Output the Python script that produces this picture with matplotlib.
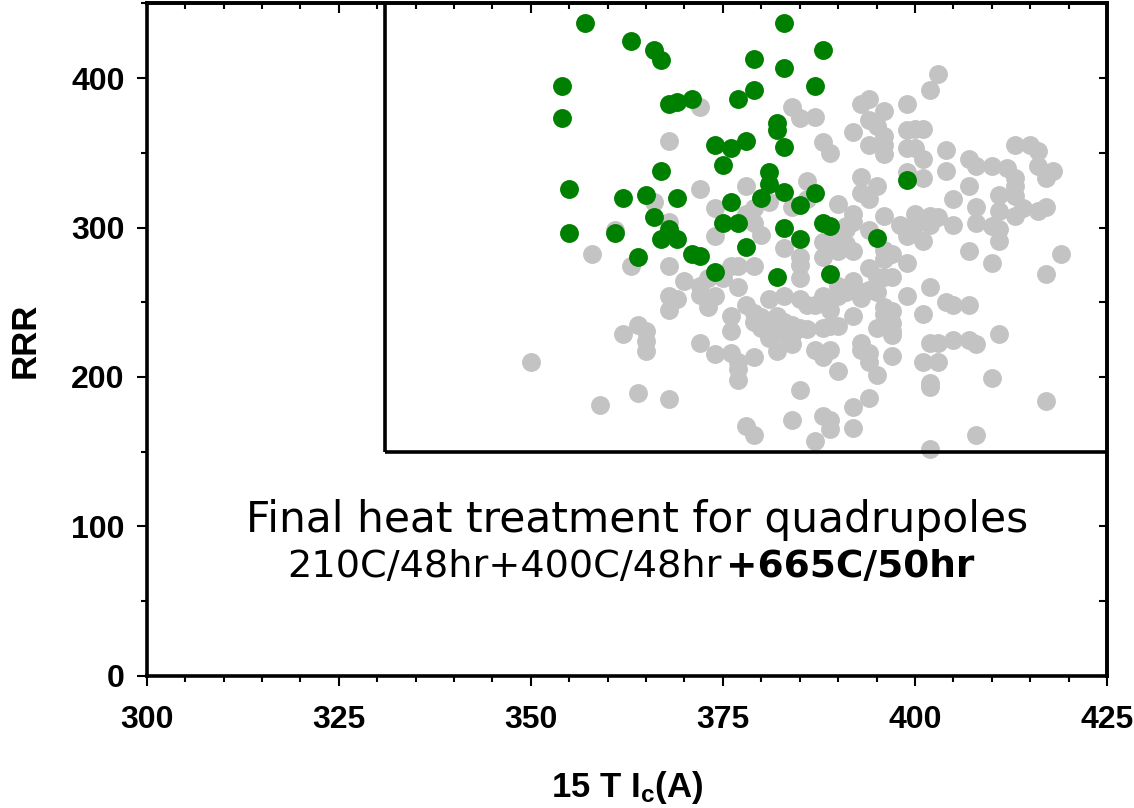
import matplotlib
matplotlib.use('Agg')
import matplotlib.pyplot as plt
from matplotlib.ticker import MultipleLocator
from matplotlib.patches import Rectangle

# strands after the final quadrupole heat treatment (green)
green_ic = [357, 363, 366, 367, 354, 354, 383, 388, 379, 383, 379, 377, 387,
            368, 369, 371, 382, 382, 374, 376, 378, 383, 375, 367, 381, 399,
            355, 362, 365, 369, 381, 380, 383, 387, 385, 376, 366, 355, 361,
            368, 367, 369, 375, 377, 383, 388, 389, 385, 395, 378, 364, 371,
            372, 374, 382, 389]
green_rrr = [437, 425, 419, 412, 395, 373, 437, 419, 413, 407, 392, 386, 395,
             383, 384, 386, 370, 365, 355, 353, 358, 354, 342, 338, 337, 332,
             326, 320, 322, 320, 329, 320, 324, 323, 315, 317, 307, 296, 296,
             299, 292, 292, 303, 303, 300, 303, 301, 292, 293, 287, 280, 282,
             281, 270, 267, 269]

# all other strands (grey)
grey_ic = [403, 402, 399, 393, 394, 396, 392, 394, 395, 396, 394, 396, 396,
           399, 400, 401, 399, 400, 401, 404, 404, 401, 399, 407, 408, 410,
           412, 413, 415, 416, 416, 417, 418, 413, 413, 407, 411, 413, 405,
           408, 411, 413, 414, 416, 417, 400, 402, 403, 398, 400, 402, 405,
           408, 410, 411, 399, 401, 411, 407, 410, 399, 397, 397, 402, 399,
           401, 404, 405, 407, 397, 397, 397, 402, 403, 405, 407, 408, 411,
           419, 417, 401, 403, 397, 402, 402, 410, 417, 408, 402,
           393, 395, 393, 394, 396, 392, 390, 392, 391, 394, 396, 396, 394,
           392, 395, 396, 394, 393, 392, 390, 391, 395, 393, 396, 396, 397,
           392, 393, 393, 394, 395, 395, 394, 390, 394, 392, 392, 389, 389,
           388, 387, 384, 385, 378, 379,
           384, 385, 387, 388, 389, 372, 368, 372, 378, 386, 366, 374, 379,
           381, 384, 386, 368, 378, 379, 380, 374, 361, 383, 388, 388, 390,
           391, 376, 377, 379, 375, 377, 385, 385, 372, 374, 373, 378, 379,
           381, 383, 385, 386, 388, 390, 387, 389, 376, 376, 380, 382, 383,
           384, 379, 380, 381, 381, 383, 384, 385, 386, 388, 389, 390, 384,
           382, 387, 388, 389, 372, 374, 376, 377, 379, 377, 377,
           358, 363, 368, 370, 372, 373, 368, 369, 368, 364, 365, 365, 365,
           362, 350, 364, 359, 368, 390, 391, 382, 385]
grey_rrr = [403, 392, 383, 383, 386, 378, 364, 372, 368, 361, 355, 355, 349,
            365, 366, 366, 353, 353, 346, 352, 338, 333, 337, 346, 341, 341,
            340, 355, 355, 351, 341, 333, 338, 333, 328, 328, 322, 321, 319,
            314, 311, 308, 313, 311, 314, 309, 308, 307, 302, 302, 302, 302,
            303, 301, 299, 294, 291, 291, 284, 276, 276, 282, 267, 260, 254,
            242, 250, 248, 248, 244, 236, 231, 223, 223, 225, 225, 222, 229,
            282, 269, 210, 210, 214, 196, 193, 199, 184, 161, 152,
            334, 328, 323, 319, 308, 309, 316, 304, 301, 298, 285, 279, 273,
            284, 267, 267, 258, 257, 264, 261, 257, 257, 253, 247, 242, 228,
            241, 223, 218, 210, 201, 233, 216, 204, 186, 180, 166, 171, 165,
            174, 157, 171, 191, 167, 161,
            381, 373, 374, 357, 350, 381, 358, 326, 328, 331, 317, 313, 313,
            317, 314, 319, 304, 309, 303, 295, 294, 298, 286, 290, 280, 284,
            289, 274, 274, 274, 266, 260, 275, 266, 255, 254, 247, 248, 243,
            252, 254, 252, 248, 254, 254, 248, 245, 241, 231, 240, 237, 237,
            235, 237, 233, 229, 226, 229, 228, 233, 232, 233, 234, 234, 222,
            217, 218, 213, 218, 223, 215, 216, 210, 213, 205, 198,
            282, 274, 274, 264, 261, 266, 254, 252, 245, 235, 231, 224, 217,
            229, 210, 189, 181, 185, 294, 299, 241, 280]

x_ticks = [300, 325, 350, 375, 400, 425]
y_ticks = [0, 100, 200, 300, 400]

plt.rcParams['font.family'] = ['Liberation Sans', 'DejaVu Sans']
plt.rcParams['mathtext.fontset'] = 'custom'
plt.rcParams['mathtext.rm'] = 'Liberation Sans:bold'
plt.rcParams['mathtext.it'] = 'Liberation Sans:bold'
plt.rcParams['mathtext.bf'] = 'Liberation Sans:bold'

fig = plt.figure(figsize=(11.34, 8.08), dpi=100)
ax = fig.add_axes([0.1294, 0.1639, 0.8468, 0.8318])

ax.scatter(grey_ic, grey_rrr, s=185, c='#c3c3c3', linewidths=0, zorder=2)
ax.scatter(green_ic, green_rrr, s=185, c='#008000', linewidths=0, zorder=3)

# selection box: Ic > 331 A and RRR > 150
ax.add_patch(Rectangle((331, 150), 100, 400, fill=False, lw=2.6,
                       ec='black', zorder=4))

ax.text(363.8, 104, 'Final heat treatment for quadrupoles', ha='center',
        va='center', fontsize=30.5, family='DejaVu Sans')
ax.text(374.9, 73, '210C/48hr+400C/48hr', ha='right', va='center',
        fontsize=27.5, family='DejaVu Sans')
ax.text(375.4, 73, '+665C/50hr', ha='left', va='center', fontsize=27,
        family='DejaVu Sans', fontweight='bold')

ax.set_xlim(300, 425)
ax.set_ylim(0, 450)
ax.set_xticks(x_ticks)
ax.set_yticks(y_ticks)
ax.xaxis.set_minor_locator(MultipleLocator(5))
ax.yaxis.set_minor_locator(MultipleLocator(50))
ax.tick_params(which='major', direction='out', length=7, width=1.5)
ax.tick_params(which='minor', direction='out', length=4.5, width=1.5)
ax.tick_params(axis='x', pad=14)
ax.tick_params(axis='y', pad=9)
for lab in ax.get_xticklabels() + ax.get_yticklabels():
    lab.set_fontsize(23)
    lab.set_fontweight('bold')

for sp in ax.spines.values():
    sp.set_linewidth(2.6)

top = ax.secondary_xaxis('top')
top.set_xticks(x_ticks)
top.xaxis.set_minor_locator(MultipleLocator(5))
top.tick_params(which='major', direction='in', length=7, width=1.5, labeltop=False)
top.tick_params(which='minor', direction='in', length=4.5, width=1.5)
top.spines['top'].set_linewidth(2.6)

right = ax.secondary_yaxis('right')
right.set_yticks(y_ticks)
right.yaxis.set_minor_locator(MultipleLocator(50))
right.tick_params(which='both', direction='in', length=6, width=1.5, labelright=False)
right.spines['right'].set_linewidth(2.6)

fig.text(25 / 1134, 1 - 340 / 808, 'RRR', rotation=90, ha='center',
         va='center', fontsize=25, fontweight='bold')
fig.text(627 / 1134, 1 - 787 / 808, r'15 T I$_{\mathrm{c}}$(A)', ha='center',
         va='center', fontsize=25, fontweight='bold')

fig.savefig('out.png', dpi=100)
